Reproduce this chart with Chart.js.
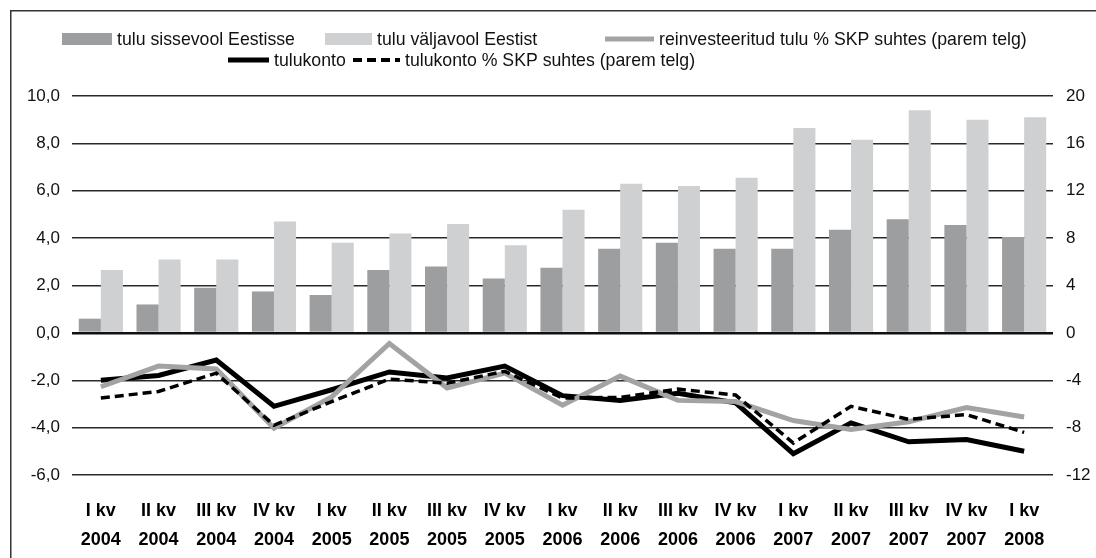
<!DOCTYPE html>
<html><head><meta charset="utf-8">
<script src="https://cdn.jsdelivr.net/npm/chart.js@4.4.0/dist/chart.umd.min.js"></script>
<style>html,body{margin:0;padding:0;background:#fff;} #wrap{width:1096px;height:558px;position:relative;}</style>
</head><body><div id="wrap"><canvas id="c" width="1096" height="558"></canvas></div>
<script>
// ---- data ----
const quarters = ['I kv','II kv','III kv','IV kv','I kv','II kv','III kv','IV kv','I kv','II kv','III kv','IV kv','I kv','II kv','III kv','IV kv','I kv'];
const years = ['2004','2004','2004','2004','2005','2005','2005','2005','2006','2006','2006','2006','2007','2007','2007','2007','2008'];
const inflow = [0.6, 1.2, 1.9, 1.75, 1.6, 2.65, 2.8, 2.3, 2.75, 3.55, 3.8, 3.55, 3.55, 4.35, 4.8, 4.55, 4.05];
const outflow = [2.65, 3.1, 3.1, 4.7, 3.8, 4.2, 4.6, 3.7, 5.2, 6.3, 6.2, 6.55, 8.65, 8.15, 9.4, 9.0, 9.1];
const reinvestPct = [-4.55, -2.8, -3.05, -8.05, -5.4, -0.9, -4.65, -3.4, -6.1, -3.65, -5.7, -5.8, -7.4, -8.15, -7.5, -6.3, -7.1];
const incomeAccount = [-2.0, -1.8, -1.15, -3.1, -2.4, -1.65, -1.9, -1.4, -2.65, -2.85, -2.55, -2.95, -5.1, -3.8, -4.6, -4.5, -5.0];
const incomeAccountPct = [-5.5, -4.95, -3.4, -7.8, -5.8, -3.9, -4.25, -3.25, -5.5, -5.45, -4.75, -5.25, -9.3, -6.2, -7.3, -6.9, -8.4];
const leftTicks = {min: -6, max: 10, step: 2};
const rightTicks = {min: -12, max: 20, step: 4};
const seriesNames = ['tulu sissevool Eestisse','tulu väljavool Eestist','reinvesteeritud tulu % SKP suhtes (parem telg)','tulukonto','tulukonto % SKP suhtes (parem telg)'];

const FONT = "'Liberation Sans', Arial, sans-serif";
const C_DARK = '#9d9ea0', C_LIGHT = '#cfd0d2', C_GREY = '#a3a3a3';

// legend layout (row, x start, symbol width)
const legendLayout = [
  {row:0, x:62, w:50}, {row:0, x:325, w:47}, {row:0, x:605, w:49},
  {row:1, x:228, w:41}, {row:1, x:353, w:47}
];
const legendRowsY = [39, 60];

const legendPlugin = {
  id: 'customLegend',
  afterDraw(chart) {
    const ctx = chart.ctx;
    ctx.save();
    // frame
    ctx.strokeStyle = '#333'; ctx.lineWidth = 1.5;
    ctx.strokeRect(10.75, 10.75, 1200, 1200);
    ctx.font = '17.7px ' + FONT;
    ctx.textBaseline = 'middle';
    chart.data.datasets.forEach((ds, k) => {
      const L = legendLayout[k];
      const y = legendRowsY[L.row];
      if (ds.type === 'bar') {
        ctx.fillStyle = ds.backgroundColor;
        ctx.fillRect(L.x, y - 6, L.w, 12);
      } else {
        ctx.strokeStyle = ds.borderColor;
        ctx.lineWidth = ds.borderDash ? 4 : 5;
        ctx.setLineDash(ds.borderDash || []);
        ctx.beginPath(); ctx.moveTo(L.x, y); ctx.lineTo(L.x + L.w, y); ctx.stroke();
        ctx.setLineDash([]);
      }
      ctx.fillStyle = '#111';
      ctx.fillText(ds.label, L.x + L.w + 5, y + 1);
    });
    ctx.restore();
  }
};

new Chart(document.getElementById('c'), {
  data: {
    labels: quarters.map((q, i) => [q, years[i]]),
    datasets: [
      {type:'bar', label: seriesNames[0], data: inflow, backgroundColor: C_DARK, yAxisID:'y', order: 10, categoryPercentage: 0.765, barPercentage: 1.0},
      {type:'bar', label: seriesNames[1], data: outflow, backgroundColor: C_LIGHT, yAxisID:'y', order: 10, categoryPercentage: 0.765, barPercentage: 1.0},
      {type:'line', label: seriesNames[2], data: reinvestPct, borderColor: C_GREY, borderWidth: 5, pointRadius: 0, yAxisID:'y1', order: 2, tension: 0},
      {type:'line', label: seriesNames[3], data: incomeAccount, borderColor: '#000', borderWidth: 5, pointRadius: 0, yAxisID:'y', order: 3, tension: 0},
      {type:'line', label: seriesNames[4], data: incomeAccountPct, borderColor: '#000', borderWidth: 3.5, borderDash: [9, 5], pointRadius: 0, yAxisID:'y1', order: 1, tension: 0}
    ]
  },
  options: {
    responsive: false, animation: false, devicePixelRatio: 1,
    layout: {padding: {top: 96, left: 0, right: 0, bottom: 0}},
    plugins: {legend: {display: false}, tooltip: {enabled: false}},
    scales: {
      x: {
        type: 'category', offset: true,
        grid: {display: false, drawTicks: false}, border: {display: false},
        ticks: {autoSkip: false, maxRotation: 0, padding: 22, color: '#000', font: {family: FONT, size: 18, weight: 'bold', lineHeight: 1.6}},
        afterFit(s) { s.height = 83; }
      },
      y: {
        position: 'left', min: leftTicks.min, max: leftTicks.max,
        ticks: {stepSize: leftTicks.step, padding: 12, color: '#111', font: {family: FONT, size: 17},
          callback: v => v.toFixed(1).replace('.', ',')},
        grid: {drawTicks: false, color: c => c.tick.value === 0 ? '#111' : '#2a2a2a', lineWidth: c => c.tick.value === 0 ? 2.5 : 1.4},
        border: {display: false},
        afterFit(s) { s.width = 72; }
      },
      y1: {
        position: 'right', min: rightTicks.min, max: rightTicks.max,
        ticks: {stepSize: rightTicks.step, padding: 13, color: '#111', font: {family: FONT, size: 17}},
        grid: {drawOnChartArea: false, drawTicks: false},
        border: {display: false},
        afterFit(s) { s.width = 43; }
      }
    }
  },
  plugins: [legendPlugin]
});
</script>
</body></html>
